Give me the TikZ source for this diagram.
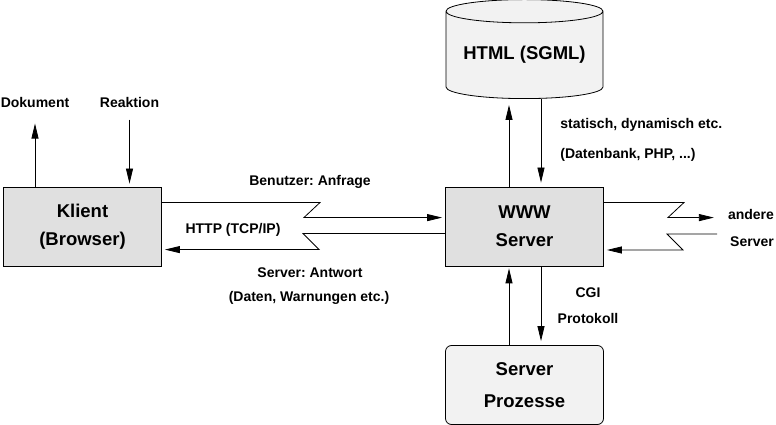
\documentclass[tikz,border=0pt]{standalone}
\usepackage{fontspec}
\setmainfont{Liberation Sans}
\usetikzlibrary{arrows.meta,shapes.geometric,positioning}

\begin{document}
\frenchspacing
\begin{tikzpicture}[x=1pt,y=1pt,line width=0.8pt,>={Triangle[length=15pt,width=7pt]},
                    main box/.style={rectangle,draw,fill=black!12,minimum width=158pt,
                      minimum height=79pt,align=center,font=\fontsize{18.5}{28}\selectfont\bfseries},
                    round box/.style={main box,rounded corners=6pt,fill=black!5},
                    db node/.style={main box,cylinder,shape border rotate=90,aspect=0.19,
                      fill=black!5,minimum width=157pt,minimum height=99pt,inner sep=0pt},
                    label node/.style={font=\fontsize{14}{16}\selectfont\bfseries,inner sep=1pt}]
  \useasboundingbox (0,0) rectangle (776,425);

  \node[main box] (klient) at (82.5,198.5) {Klient\\(Browser)};
  \node[main box] (www) [right of=klient,node distance=442pt] {WWW\\Server};
  \node[db node,anchor=south] (html) at (524.5,326) {HTML (SGML)};
  \node[round box] (proz) at (524.5,40) {Server\\[4pt]Prozesse};

  % Texte
  \node[label node] (dok) at (35,322) {Dokument};
  \node[label node] (reak) at (129.5,322) {Reaktion};
  \node[label node] (anfrage) at (310,243) {Benutzer: Anfrage};
  \node[label node] (http) at (233,195) {HTTP (TCP/IP)};
  \node[label node] (antwort) at (310,152) {Server: Antwort};
  \node[label node] (daten) at (309,127) {(Daten, Warnungen etc.)};
  \node[label node,anchor=west] (statisch) at (559,300) {statisch, dynamisch etc.};
  \node[label node,anchor=west] (dbank) at (559,270) {(Datenbank, PHP, ...)};
  \node[label node] (cgi) at (588,132) {CGI};
  \node[label node] (proto) at (588,107) {Protokoll};
  \node[label node] (andere) at (751,210) {andere};
  \node[label node] (fremd) at (752,183) {Server};
  \coordinate (ext) at (717,191);

  % Klient
  \draw[->] (klient.north -| dok) -- ([yshift=-14pt]dok.south);
  \draw[->,shorten >=3pt] ([yshift=-10pt]reak.south) -- (klient.north -| reak);

  % Klient <-> WWW Server
  \draw[->,shorten >=3pt] ([yshift=-16pt]klient.north east) -- ++(158,0) -- ++(-16,-15)
    coordinate (k1) -- (k1 -| www.west);
  \draw[->,shorten >=3pt] ([yshift=-47pt]www.north west) -- ++(-142,0) -- ++(16,-16)
    coordinate (k2) -- (k2 -| klient.east);

  % WWW Server <-> andere Server
  \draw[->] ([yshift=-16pt]www.north east) -- ++(80,0) -- ++(-16,-15)
    coordinate (k3) -- ++(46,0);
  \draw[->,shorten >=3pt] (ext) -- ++(-50,0) -- ++(16,-16)
    coordinate (k4) -- (k4 -| www.east);

  % HTML
  \draw[->,shorten >=6pt] ([xshift=-15.5pt]www.north) -- ([xshift=-15.5pt]html.south);
  \draw[->,shorten >=4pt] ([xshift=16.5pt]html.south) -- ([xshift=16.5pt]www.north);

  % Prozesse
  \draw[->,shorten >=2pt] ([xshift=-15.5pt]proz.north) -- ([xshift=-15.5pt]www.south);
  \draw[->,shorten >=4pt] ([xshift=16.5pt]www.south) -- ([xshift=16.5pt]proz.north);
\end{tikzpicture}
\end{document}
